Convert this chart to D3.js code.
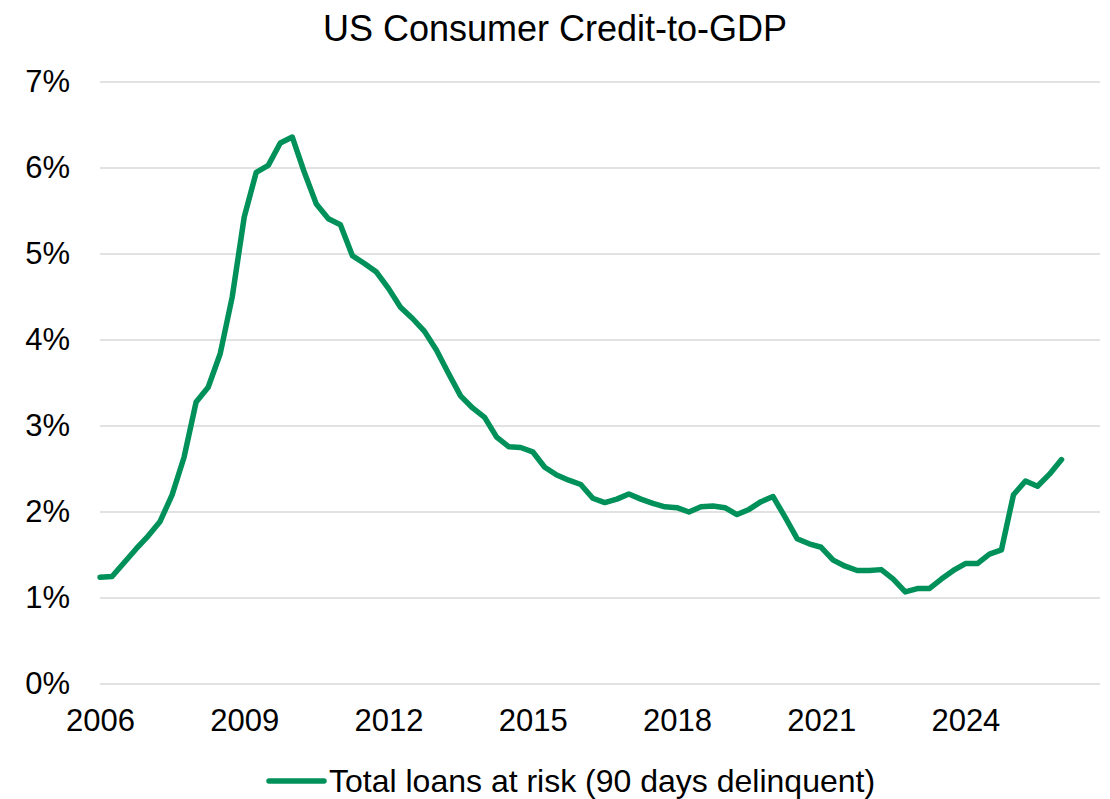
<!DOCTYPE html>
<html>
<head>
<meta charset="utf-8">
<script src="https://cdn.jsdelivr.net/npm/d3@7"></script>
<style>
  body { margin: 0; background: #fff; }
  svg text { font-family: "Liberation Sans", Arial, sans-serif; fill: #000; }
</style>
</head>
<body>
<svg id="chart"></svg>
<script>
// quarterly, starting 2006 Q1
const startYear = 2006;
const delinquent = [
  1.24, 1.25, 1.41, 1.57, 1.72, 1.89, 2.20, 2.64,
  3.28, 3.45, 3.84, 4.50, 5.43, 5.95, 6.03, 6.29,
  6.36, 5.95, 5.58, 5.41, 5.34, 4.98, 4.89, 4.79,
  4.60, 4.38, 4.25, 4.10, 3.88, 3.61, 3.35, 3.21,
  3.10, 2.87, 2.76, 2.75, 2.70, 2.52, 2.43, 2.37,
  2.32, 2.16, 2.11, 2.15, 2.21, 2.15, 2.10, 2.06,
  2.05, 2.00, 2.06, 2.07, 2.05, 1.97, 2.03, 2.12,
  2.18, 1.94, 1.69, 1.63, 1.59, 1.44, 1.37, 1.32,
  1.32, 1.33, 1.22, 1.07, 1.11, 1.11, 1.22, 1.32,
  1.40, 1.40, 1.51, 1.56, 2.20, 2.36, 2.30, 2.44,
  2.61
];
const xTicks = [2006, 2009, 2012, 2015, 2018, 2021, 2024];
const yTicks = [0, 1, 2, 3, 4, 5, 6, 7];
const title = 'US Consumer Credit-to-GDP';
const seriesName = 'Total loans at risk (90 days delinquent)';

const config = {
  width: 1110,
  height: 799,
  margin: { top: 82, right: 10, bottom: 115, left: 100 },
  color: '#00915a'
};

const width = config.width - config.margin.left - config.margin.right;
const height = config.height - config.margin.top - config.margin.bottom;

const data = delinquent.map((v, i) => ({ t: startYear + i / 4, v }));

const svg = d3.select('#chart')
  .attr('width', config.width)
  .attr('height', config.height);

const chart = svg.append('g')
  .attr('transform', `translate(${config.margin.left},${config.margin.top})`);

const xScale = d3.scaleLinear()
  .domain([2006, 2026.8])
  .range([0, width]);

const yScale = d3.scaleLinear()
  .domain([0, 7])
  .range([height, 0]);

// gridlines
chart.append('g')
  .selectAll('line')
  .data(yTicks)
  .join('line')
  .attr('x1', 0)
  .attr('x2', width)
  .attr('y1', d => yScale(d))
  .attr('y2', d => yScale(d))
  .attr('stroke', '#d9d9d9')
  .attr('stroke-width', 1.5);

// y axis
const yAxis = d3.axisLeft(yScale)
  .tickValues(yTicks)
  .tickFormat(d => d + '%')
  .tickSize(0)
  .tickPadding(30);

const yAxisG = chart.append('g').call(yAxis);
yAxisG.select('.domain').remove();
yAxisG.selectAll('text')
  .style('font-size', '31px');

// x axis
const xAxis = d3.axisBottom(xScale)
  .tickValues(xTicks)
  .tickFormat(d3.format('d'))
  .tickSize(0)
  .tickPadding(25);

const xAxisG = chart.append('g')
  .attr('transform', `translate(0,${height})`)
  .call(xAxis);
xAxisG.select('.domain').remove();
xAxisG.selectAll('text')
  .style('font-size', '31px');

// line
const line = d3.line()
  .x(d => xScale(d.t))
  .y(d => yScale(d.v));

chart.append('path')
  .datum(data)
  .attr('fill', 'none')
  .attr('stroke', config.color)
  .attr('stroke-width', 5.5)
  .attr('stroke-linejoin', 'round')
  .attr('stroke-linecap', 'round')
  .attr('d', line);

// title
svg.append('text')
  .attr('x', 555)
  .attr('y', 28)
  .attr('dy', '0.35em')
  .attr('text-anchor', 'middle')
  .style('font-size', '36px')
  .text(title);

// legend
const legend = svg.append('g')
  .attr('transform', 'translate(269, 781)');

legend.append('line')
  .attr('x1', 0)
  .attr('x2', 55)
  .attr('stroke', config.color)
  .attr('stroke-width', 5.5)
  .attr('stroke-linecap', 'round');

legend.append('text')
  .attr('x', 60)
  .attr('dy', '0.35em')
  .style('font-size', '32px')
  .text(seriesName);
</script>
</body>
</html>
